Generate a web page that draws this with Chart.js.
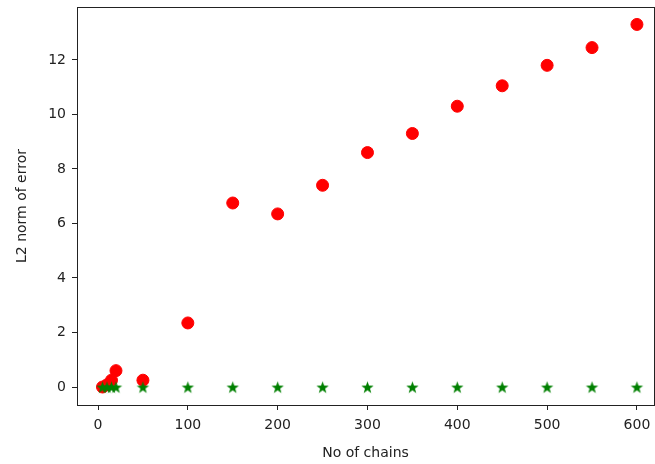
<!DOCTYPE html>
<html>
<head>
<meta charset="utf-8">
<script src="https://cdn.jsdelivr.net/npm/chart.js@4.4.0/dist/chart.umd.min.js"></script>
<style>
  body { margin: 0; background: #fff; }
  #grafico { display: block; }
</style>
</head>
<body>
<canvas id="grafico" width="655" height="464"></canvas>
<script>
// Datos del grafico
var numCadenas = [5, 10, 15, 20, 50, 100, 150, 200, 250, 300, 350, 400, 450, 500, 550, 600];
var errorRojo = [0.0, 0.08, 0.25, 0.6, 0.25, 2.35, 6.75, 6.35, 7.4, 8.6, 9.3, 10.3, 11.05, 11.8, 12.45, 13.3];
var errorVerde = [0, 0, 0, 0, 0, 0, 0, 0, 0, 0, 0, 0, 0, 0, 0, 0];
var ticksX = [0, 100, 200, 300, 400, 500, 600];
var ticksY = [0, 2, 4, 6, 8, 10, 12];

function puntos(xs, ys) {
  return xs.map(function (x, i) { return { x: x, y: ys[i] }; });
}

// Estrella rellena como en matplotlib
function crearEstrella(color, r) {
  var c = document.createElement('canvas');
  var s = Math.ceil(r * 2 + 2);
  c.width = s; c.height = s;
  var ctx = c.getContext('2d');
  var cx = s / 2, cy = s / 2 + r * 0.1, ri = r * 0.4;
  ctx.beginPath();
  for (var i = 0; i < 10; i++) {
    var rad = i % 2 === 0 ? r : ri;
    var a = -Math.PI / 2 + i * Math.PI / 5;
    var px = cx + rad * Math.cos(a), py = cy + rad * Math.sin(a);
    if (i === 0) ctx.moveTo(px, py); else ctx.lineTo(px, py);
  }
  ctx.closePath();
  ctx.fillStyle = color;
  ctx.fill();
  return c;
}

// Marco completo alrededor del area
var marco = {
  id: 'marco',
  afterDraw: function (chart) {
    var a = chart.chartArea, ctx = chart.ctx;
    ctx.save();
    ctx.strokeStyle = '#222';
    ctx.lineWidth = 1;
    ctx.strokeRect(Math.round(a.left) + 0.5, Math.round(a.top) + 0.5,
      Math.round(a.right - a.left), Math.round(a.bottom - a.top));
    ctx.restore();
  }
};

var fuente = { family: 'DejaVu Sans', size: 14 };

new Chart(document.getElementById('grafico').getContext('2d'), {
  type: 'scatter',
  data: {
    datasets: [{
      data: puntos(numCadenas, errorRojo),
      backgroundColor: '#ff0000',
      borderColor: '#ff0000',
      pointRadius: 6,
      order: 1
    }, {
      data: puntos(numCadenas, errorVerde),
      backgroundColor: '#008000',
      borderColor: '#008000',
      pointStyle: crearEstrella('#008000', 6.5),
      order: 0
    }]
  },
  plugins: [marco],
  options: {
    responsive: false,
    animation: false,
    layout: { autoPadding: false, padding: { top: 7, right: 1, left: 0, bottom: 0 } },
    plugins: { legend: { display: false }, tooltip: { enabled: false } },
    scales: {
      x: {
        type: 'linear',
        min: -23.4,
        max: 619,
        afterBuildTicks: function (scale) {
          scale.ticks = ticksX.map(function (v) { return { value: v }; });
        },
        afterFit: function (scale) {
          scale.height = 59;
          scale.paddingLeft = 0;
          scale.paddingRight = 0;
        },
        grid: { drawOnChartArea: false, drawTicks: true, tickLength: 5, color: '#222' },
        border: { display: false },
        ticks: { color: '#222', font: fuente, padding: 7, maxRotation: 0 },
        title: { display: true, text: 'No of chains', color: '#222', font: fuente, padding: { top: 0, bottom: 2 } }
      },
      y: {
        min: -0.66,
        max: 13.94,
        afterBuildTicks: function (scale) {
          scale.ticks = ticksY.map(function (v) { return { value: v }; });
        },
        afterFit: function (scale) {
          scale.width = 77;
          scale.paddingTop = 0;
          scale.paddingBottom = 0;
        },
        grid: { drawOnChartArea: false, drawTicks: true, tickLength: 5, color: '#222' },
        border: { display: false },
        ticks: { color: '#222', font: fuente, padding: 6 },
        title: { display: true, text: 'L2 norm of error', color: '#222', font: fuente, padding: { top: 14, bottom: 0 } }
      }
    }
  }
});
</script>
</body>
</html>
